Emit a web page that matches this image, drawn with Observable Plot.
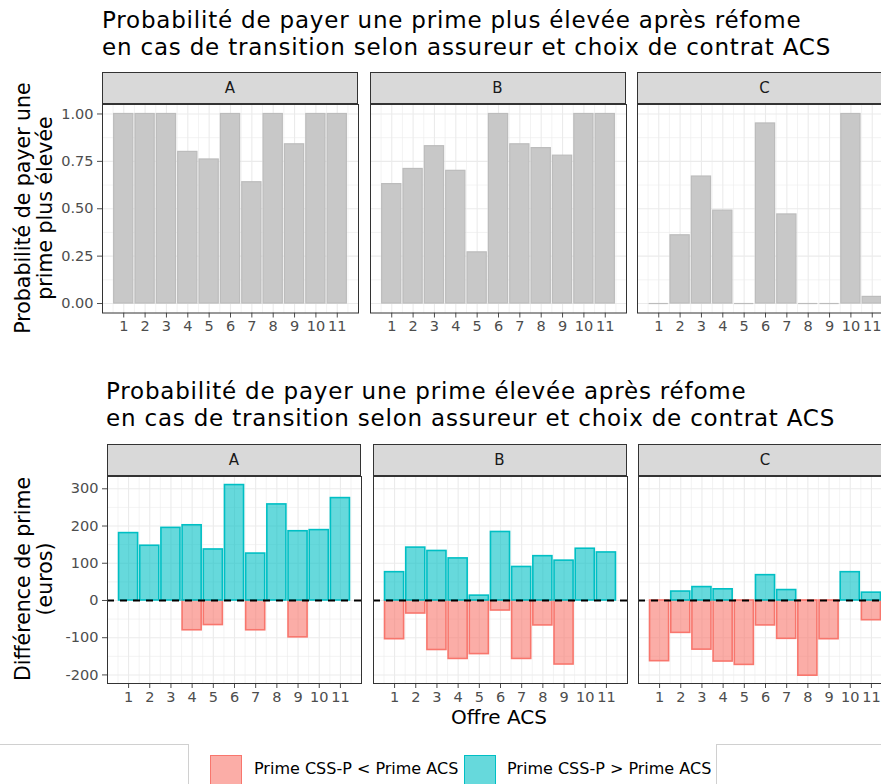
<!DOCTYPE html>
<html>
<head>
<meta charset="utf-8">
<script src="https://cdn.jsdelivr.net/npm/d3@7"></script>
<script src="https://cdn.jsdelivr.net/npm/@observablehq/plot@0.6"></script>
<style>
  html, body { margin: 0; padding: 0; background: #fff; overflow: hidden; }
  #root { position: relative; width: 894px; height: 784px; font-family: "DejaVu Sans", sans-serif; }
  .abs { position: absolute; }
  .title { font-size: 23px; letter-spacing: 0.8px; line-height: 27px; color: #000; white-space: nowrap; }
  .strip { box-sizing: border-box; background: #d9d9d9; border: 1px solid #333; font-size: 15px; color: #1a1a1a; display: flex; align-items: center; justify-content: center; }
  .ytitle { font-size: 20.5px; line-height: 21.5px; text-align: center; white-space: nowrap; transform: translate(-50%, -50%) rotate(-90deg); }
  .legtext { font-size: 16px; color: #000; white-space: nowrap; }
</style>
</head>
<body>
<div id="root"></div>
<script>
// ---------- data ----------
const offers = [1, 2, 3, 4, 5, 6, 7, 8, 9, 10, 11];
const insurers = ["A", "B", "C"];

// Top chart: probability of paying a higher premium
const probA = [1.00, 1.00, 1.00, 0.80, 0.76, 1.00, 0.64, 1.00, 0.84, 1.00, 1.00];
const probB = [0.63, 0.71, 0.83, 0.70, 0.27, 1.00, 0.84, 0.82, 0.78, 1.00, 1.00];
const probC = [0.00, 0.36, 0.67, 0.49, 0.00, 0.95, 0.47, 0.00, 0.00, 1.00, 0.035];

// Bottom chart: premium difference (euros)
const posA = [181, 147, 195, 202, 137, 310, 126, 258, 186, 189, 275];
const negA = [0, 0, 0, -80, -66, 0, -80, 0, -99, 0, 0];
const posB = [76, 142, 133, 113, 13, 184, 90, 119, 107, 139, 129];
const negB = [-104, -35, -133, -157, -144, -27, -157, -67, -172, 0, 0];
const posC = [0, 24, 36, 30, 0, 68, 28, 0, 0, 76, 21];
const negC = [-163, -87, -132, -164, -173, -67, -103, -202, -104, 0, -53];

const seriesLabels = ["Prime CSS-P < Prime ACS", "Prime CSS-P > Prime ACS"];

const probTicks = [0, 0.25, 0.5, 0.75, 1];
const probMinor = [0.125, 0.375, 0.625, 0.875];
const diffTicks = [-200, -100, 0, 100, 200, 300];
const diffMinor = [-150, -50, 50, 150, 250];
const xMinor = [0.5, 1.5, 2.5, 3.5, 4.5, 5.5, 6.5, 7.5, 8.5, 9.5, 10.5, 11.5];

const titleTop = ["Probabilité de payer une prime plus élevée après réfome", "en cas de transition selon assureur et choix de contrat ACS"];
const titleBottom = ["Probabilité de payer une prime élevée après réfome", "en cas de transition selon assureur et choix de contrat ACS"];

const probData = { A: probA, B: probB, C: probC };
const posData = { A: posA, B: posB, C: posC };
const negData = { A: negA, B: negB, C: negC };

// ---------- styling ----------
const grey = "#c8c8c8", greyStroke = "#bcbcbc";
const red = "#F8766D", blue = "#00BFC4";
const gridCol = "#ebebeb";
const axisStyle = { fontFamily: "DejaVu Sans", fontSize: "14.5px", color: "#4d4d4d", background: "transparent", overflow: "visible" };

const root = document.getElementById("root");
function place(el, left, top) { el.style.position = "absolute"; el.style.left = left + "px"; el.style.top = top + "px"; root.appendChild(el); return el; }
function div(cls, html, left, top, extra) {
  const d = document.createElement("div"); d.className = "abs " + cls; d.innerHTML = html;
  d.style.left = left + "px"; d.style.top = top + "px";
  if (extra) Object.assign(d.style, extra);
  root.appendChild(d); return d;
}

const xDomain = [0.005, 11.995];
const half = 0.45;

function gridMarks(yMajor, yMinor) {
  return [
    Plot.ruleX(xMinor, { stroke: gridCol, strokeWidth: 0.6 }),
    Plot.ruleY(yMinor, { stroke: gridCol, strokeWidth: 0.6 }),
    Plot.ruleX(offers, { stroke: gridCol, strokeWidth: 1.1 }),
    Plot.ruleY(yMajor, { stroke: gridCol, strokeWidth: 1.1 })
  ];
}

function topPanel(key, left, showY) {
  const ml = showY ? 50 : 0;
  const data = offers.map((o, i) => ({ offer: o, p: probData[key][i] }));
  const ph = 208.5;
  const chart = Plot.plot({
    width: 256 + ml, height: ph + 32,
    marginLeft: ml, marginRight: 0, marginTop: 0, marginBottom: 32,
    style: axisStyle,
    x: { domain: xDomain, ticks: offers, tickFormat: d => String(d), tickSize: 5, tickPadding: 3, label: null },
    y: { domain: [-0.05, 1.05], ticks: probTicks, tickFormat: d3.format(".2f"), tickSize: 5, tickPadding: 4, label: null, axis: showY ? "left" : null },
    marks: [
      ...gridMarks(probTicks, probMinor),
      Plot.rect(data.filter(d => d.p > 0), { x1: d => d.offer - half, x2: d => d.offer + half, y1: 0, y2: "p", fill: grey, stroke: greyStroke, strokeWidth: 1.2 }),
      Plot.ruleY(data.filter(d => d.p === 0), { x1: d => d.offer - half, x2: d => d.offer + half, y: 0, stroke: greyStroke, strokeWidth: 1.2 }),
      Plot.frame({ stroke: "#333", strokeWidth: 1 })
    ]
  });
  place(chart, left - ml, 104);
  div("strip", key, left, 72, { width: "256px", height: "32px" });
}

function bottomPanel(key, left, showY, width) {
  const ml = showY ? 50 : 0;
  const rows = [];
  offers.forEach((o, i) => {
    if (negData[key][i] !== 0) rows.push({ offer: o, v: negData[key][i], s: seriesLabels[0] });
    if (posData[key][i] !== 0) rows.push({ offer: o, v: posData[key][i], s: seriesLabels[1] });
  });
  const ph = 207;
  const chart = Plot.plot({
    width: width + ml, height: ph + 32,
    marginLeft: ml, marginRight: 0, marginTop: 0, marginBottom: 32,
    style: axisStyle,
    x: { domain: xDomain, ticks: offers, tickFormat: d => String(d), tickSize: 5, tickPadding: 3, label: null },
    y: { domain: [-223, 333], ticks: diffTicks, tickFormat: d => String(d), tickSize: 5, tickPadding: 4, label: null, axis: showY ? "left" : null },
    color: { domain: seriesLabels, range: [red, blue] },
    marks: [
      ...gridMarks(diffTicks, diffMinor),
      Plot.rect(rows, { x1: d => d.offer - half, x2: d => d.offer + half, y1: 0, y2: "v", fill: "s", fillOpacity: 0.6, stroke: "s", strokeWidth: 1.6 }),
      Plot.ruleY([0], { stroke: "#000", strokeWidth: 1.8, strokeDasharray: "7,6" }),
      Plot.frame({ stroke: "#333", strokeWidth: 1 })
    ]
  });
  place(chart, left - ml, 476);
  div("strip", key, left, 444, { width: width + "px", height: "32px" });
}

// ---------- titles ----------
div("title", titleTop.join("<br>"), 102, 6.5);
div("title", titleBottom.join("<br>"), 106, 377.5);

// ---------- top chart ----------
topPanel("A", 102, true);
topPanel("B", 369.5, false);
topPanel("C", 636.5, false);
div("ytitle", "Probabilité de payer une<br>prime plus élevée", 34, 208);

// ---------- bottom chart ----------
bottomPanel("A", 107, true, 254);
bottomPanel("B", 372.5, false, 254);
bottomPanel("C", 638, false, 254);
div("ytitle", "Différence de prime<br>(euros)", 34, 579);
div("title", "Offre ACS", 499, 705, { fontSize: "20px", letterSpacing: "0px", lineHeight: "24px", transform: "translateX(-50%)" });

// ---------- legend ----------
div("", "", -1, 744, { width: "190px", height: "60px", borderTop: "1px solid #d0d0d0", borderRight: "1px solid #d0d0d0", boxSizing: "border-box" });
div("", "", 716, 744, { width: "200px", height: "60px", borderTop: "1px solid #d0d0d0", borderLeft: "1px solid #d0d0d0", boxSizing: "border-box" });
const keyX = [210, 464], textX = [254, 507], cols = [red, blue];
seriesLabels.forEach((lab, i) => {
  div("", "", keyX[i], 755, { width: "32px", height: "40px", boxSizing: "border-box", border: "1.5px solid " + cols[i] })
    .style.background = i === 0 ? "rgba(248,118,109,0.6)" : "rgba(0,191,196,0.6)";
  div("legtext", lab, textX[i], 760, { lineHeight: "18px" });
});
</script>
</body>
</html>
